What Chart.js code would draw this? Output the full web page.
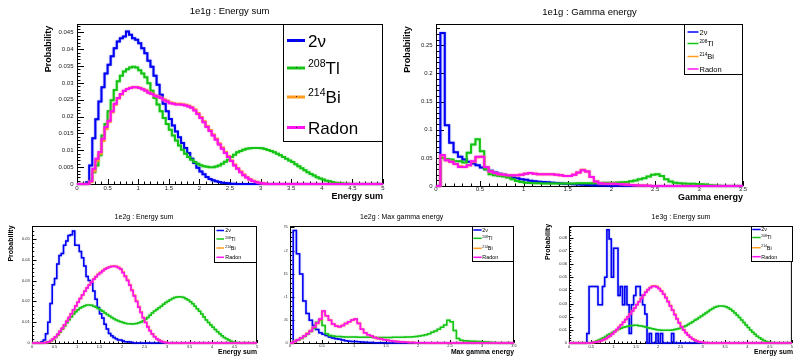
<!DOCTYPE html>
<html>
<head>
<meta charset="utf-8">
<script src="https://cdn.jsdelivr.net/npm/chart.js@4.4.0/dist/chart.umd.min.js"></script>
<style>
  body { margin: 0; background: #fff; width: 794px; height: 356px; overflow: hidden; position: relative; }
  canvas { position: absolute; }
</style>
</head>
<body>
<canvas id="p1" width="397" height="205" style="left:0px;top:0px"></canvas>
<canvas id="p2" width="397" height="205" style="left:397px;top:0px"></canvas>
<canvas id="p3" width="265" height="151" style="left:0px;top:205px"></canvas>
<canvas id="p4" width="246" height="151" style="left:284px;top:205px"></canvas>
<canvas id="p5" width="264" height="151" style="left:530px;top:205px"></canvas>
<script>
// series labels (ROOT latex style)
var labels = ['2\u03bd', '^{208}Tl', '^{214}Bi', 'Radon'];

// tick labels
var xTicks5 = [0, 0.5, 1, 1.5, 2, 2.5, 3, 3.5, 4, 4.5, 5];
var xTicks35 = [0, 0.5, 1, 1.5, 2, 2.5, 3, 3.5];
var yTicks1 = [0, 0.005, 0.01, 0.015, 0.02, 0.025, 0.03, 0.035, 0.04, 0.045];
var yTicks2 = [0, 0.05, 0.1, 0.15, 0.2, 0.25];
var yTicks3 = [0, 0.01, 0.02, 0.03, 0.04, 0.05];
var yTicks4 = [0, 0.05, 0.1, 0.15, 0.2, 0.25];
var yTicks5 = [0, 0.01, 0.02, 0.03, 0.04, 0.05, 0.06, 0.07, 0.08];

// bin width of all histograms
var binWidth = 0.05;

//-- 1e1g : Energy sum (bins of 0.05 from 0 to 5)
var nu1 = [
  0, 0, 0, 0.0005, 0.0055, 0.0136, 0.0192, 0.0245, 0.0287, 0.0328,
  0.0354, 0.0379, 0.0403, 0.0423, 0.0433, 0.0438, 0.0453, 0.0443, 0.0433, 0.0428,
  0.0418, 0.0403, 0.0388, 0.0366, 0.0348, 0.0321, 0.0295, 0.0265, 0.0238, 0.0216,
  0.0193, 0.0174, 0.0156, 0.0139, 0.0122, 0.0107, 0.0092, 0.0075, 0.0062, 0.0048,
  0.0037, 0.0029, 0.0021, 0.0015, 0.0011, 0.0008, 0.0006, 0.0004, 0.0003, 0.0002,
  0.0001, 0.0001, 0, 0, 0, 0, 0, 0, 0, 0,
  0, 0, 0, 0, 0, 0, 0, 0, 0, 0,
  0, 0, 0, 0, 0, 0, 0, 0, 0, 0,
  0, 0, 0, 0, 0, 0, 0, 0, 0, 0,
  0, 0, 0, 0, 0, 0, 0, 0, 0, 0
];
var tl1 = [
  0, 0, 0, 0, 0.0008, 0.0035, 0.0055, 0.0085, 0.0144, 0.0178,
  0.0216, 0.0249, 0.0279, 0.0305, 0.0321, 0.0334, 0.0341, 0.0346, 0.0348, 0.0346,
  0.0338, 0.0328, 0.0317, 0.0299, 0.0277, 0.0255, 0.0236, 0.0216, 0.0196, 0.0178,
  0.0161, 0.0144, 0.0129, 0.0114, 0.0102, 0.0090, 0.0080, 0.0072, 0.0065, 0.0060,
  0.0056, 0.0053, 0.0051, 0.0050, 0.0050, 0.0052, 0.0055, 0.0060, 0.0066, 0.0072,
  0.0080, 0.0087, 0.0094, 0.0098, 0.0102, 0.0105, 0.0106, 0.0107, 0.0107, 0.0107,
  0.0106, 0.0104, 0.0101, 0.0098, 0.0094, 0.0090, 0.0085, 0.0080, 0.0075, 0.0070,
  0.0065, 0.0059, 0.0053, 0.0047, 0.0041, 0.0035, 0.0030, 0.0025, 0.0020, 0.0016,
  0.0013, 0.0010, 0.0008, 0.0006, 0.0004, 0.0003, 0.0002, 0.0001, 0.0001, 0,
  0, 0, 0, 0, 0, 0, 0, 0, 0, 0
];
var bi1 = [
  0, 0, 0, 0, 0.0006, 0.0038, 0.0068, 0.0090, 0.0128, 0.0163,
  0.0185, 0.0213, 0.0236, 0.0254, 0.0266, 0.0276, 0.0282, 0.0286, 0.0288, 0.0287,
  0.0286, 0.0282, 0.0278, 0.0272, 0.0268, 0.0263, 0.0260, 0.0256, 0.0251, 0.0247,
  0.0242, 0.0240, 0.0238, 0.0238, 0.0237, 0.0235, 0.0232, 0.0228, 0.0221, 0.0211,
  0.0199, 0.0186, 0.0172, 0.0160, 0.0147, 0.0134, 0.0120, 0.0108, 0.0095, 0.0083,
  0.0070, 0.0058, 0.0047, 0.0037, 0.0028, 0.0020, 0.0014, 0.0010, 0.0007, 0.0004,
  0.0002, 0.0001, 0, 0, 0, 0, 0, 0, 0, 0,
  0, 0, 0, 0, 0, 0, 0, 0, 0, 0,
  0, 0, 0, 0, 0, 0, 0, 0, 0, 0,
  0, 0, 0, 0, 0, 0, 0, 0, 0, 0
];
var rn1 = [
  0, 0, 0, 0, 0.0008, 0.0045, 0.0075, 0.0095, 0.0134, 0.0169,
  0.0188, 0.0216, 0.0238, 0.0255, 0.0267, 0.0277, 0.0282, 0.0285, 0.0287, 0.0287,
  0.0285, 0.0281, 0.0277, 0.0271, 0.0267, 0.0262, 0.0259, 0.0255, 0.0249, 0.0245,
  0.0240, 0.0238, 0.0236, 0.0236, 0.0235, 0.0233, 0.0230, 0.0226, 0.0218, 0.0208,
  0.0196, 0.0183, 0.0169, 0.0157, 0.0144, 0.0131, 0.0117, 0.0105, 0.0092, 0.0080,
  0.0068, 0.0055, 0.0045, 0.0035, 0.0026, 0.0019, 0.0013, 0.0009, 0.0006, 0.0004,
  0.0002, 0.0001, 0, 0, 0, 0, 0, 0, 0, 0,
  0, 0, 0, 0, 0, 0, 0, 0, 0, 0,
  0, 0, 0, 0, 0, 0, 0, 0, 0, 0,
  0, 0, 0, 0, 0, 0, 0, 0, 0, 0
];

//-- 1e1g : Gamma energy (bins of 0.05 from 0 to 3.5)
var nu2 = [
  0, 0.272, 0.108, 0.077, 0.060, 0.052, 0.047, 0.043, 0.040, 0.037,
  0.033, 0.030, 0.027, 0.024, 0.022, 0.020, 0.017, 0.015, 0.014, 0.012,
  0.011, 0.0095, 0.0083, 0.0077, 0.0071, 0.0065, 0.0058, 0.0052, 0.0046, 0.0040,
  0.0035, 0.0030, 0.0026, 0.0022, 0.0018, 0.0015, 0.0012, 0.0010, 0.0008, 0.0006,
  0.0005, 0.0004, 0.0003, 0.0002, 0.0001, 0, 0, 0, 0, 0,
  0, 0, 0, 0, 0, 0, 0, 0, 0, 0,
  0, 0, 0, 0, 0, 0, 0, 0, 0, 0
];
var tl2 = [
  0, 0.050, 0.048, 0.047, 0.044, 0.044, 0.042, 0.059, 0.074, 0.083,
  0.062, 0.030, 0.021, 0.019, 0.018, 0.017, 0.015, 0.012, 0.009, 0.007,
  0.0060, 0.0055, 0.0050, 0.0048, 0.0046, 0.0045, 0.0045, 0.0044, 0.0044, 0.0045,
  0.0045, 0.0046, 0.0047, 0.0048, 0.0049, 0.0050, 0.0052, 0.0054, 0.0056, 0.0058,
  0.0060, 0.0063, 0.0067, 0.0072, 0.0085, 0.0100, 0.0120, 0.0140, 0.0170, 0.0200,
  0.0210, 0.0180, 0.0120, 0.0080, 0.0060, 0.0050, 0.0045, 0.0042, 0.0040, 0.0037,
  0.0033, 0.0025, 0.0015, 0.0008, 0.0004, 0.0002, 0, 0, 0, 0
];
var bi2 = [
  0, 0.054, 0.046, 0.043, 0.039, 0.035, 0.034, 0.037, 0.043, 0.051,
  0.052, 0.034, 0.026, 0.023, 0.021, 0.020, 0.019, 0.019, 0.019, 0.020,
  0.022, 0.023, 0.022, 0.021, 0.021, 0.021, 0.021, 0.020, 0.019, 0.018,
  0.018, 0.020, 0.024, 0.029, 0.026, 0.016, 0.008, 0.005, 0.004, 0.004,
  0.004, 0.0035, 0.0030, 0.0025, 0.0020, 0.0015, 0.0010, 0.0007, 0.0005, 0,
  0, 0, 0, 0, 0, 0, 0, 0, 0, 0,
  0, 0, 0, 0, 0, 0, 0, 0, 0, 0
];
var rn2 = [
  0, 0.055, 0.046, 0.043, 0.039, 0.034, 0.034, 0.037, 0.044, 0.052,
  0.052, 0.034, 0.026, 0.023, 0.021, 0.020, 0.019, 0.019, 0.019, 0.020,
  0.022, 0.023, 0.022, 0.021, 0.021, 0.021, 0.021, 0.020, 0.019, 0.018,
  0.018, 0.020, 0.024, 0.028, 0.026, 0.016, 0.008, 0.005, 0.004, 0.004,
  0.004, 0.0035, 0.0030, 0.0025, 0.0020, 0.0015, 0.0010, 0.0007, 0.0005, 0,
  0, 0, 0, 0, 0, 0, 0, 0, 0, 0,
  0, 0, 0, 0, 0, 0, 0, 0, 0, 0
];

//-- 1e2g : Energy sum
var nu3 = [
  0, 0, 0, 0, 0.0006, 0.0014, 0.0045, 0.010, 0.019, 0.028,
  0.031, 0.038, 0.042, 0.043, 0.047, 0.049, 0.0516, 0.052, 0.0538, 0.047,
  0.047, 0.044, 0.041, 0.037, 0.032, 0.030, 0.029, 0.025, 0.021, 0.017,
  0.014, 0.012, 0.009, 0.0067, 0.0046, 0.0035, 0.0026, 0.0020, 0.0014, 0.0014,
  0.0010, 0.0006, 0.0006, 0.0005, 0.0002, 0, 0, 0, 0, 0,
  0, 0, 0, 0, 0, 0, 0, 0, 0, 0,
  0, 0, 0, 0, 0, 0, 0, 0, 0, 0,
  0, 0, 0, 0, 0, 0, 0, 0, 0, 0,
  0, 0, 0, 0, 0, 0, 0, 0, 0, 0,
  0, 0, 0, 0, 0, 0, 0, 0, 0, 0
];
var tl3 = [
  0, 0, 0, 0, 0, 0, 0.0002, 0.0005, 0.0010, 0.0017,
  0.0027, 0.0038, 0.0052, 0.0066, 0.0082, 0.0097, 0.0112, 0.0126, 0.0139, 0.0150,
  0.0160, 0.0168, 0.0174, 0.0179, 0.0182, 0.0183, 0.0181, 0.0177, 0.0172, 0.0166,
  0.0159, 0.0152, 0.0144, 0.0137, 0.0130, 0.0123, 0.0117, 0.0111, 0.0106, 0.0102,
  0.0098, 0.0095, 0.0093, 0.0092, 0.0091, 0.0092, 0.0094, 0.0097, 0.0101, 0.0107,
  0.0114, 0.0123, 0.0133, 0.0144, 0.0154, 0.0161, 0.0169, 0.0177, 0.0186, 0.0194,
  0.0201, 0.0208, 0.0214, 0.0218, 0.0221, 0.0222, 0.0221, 0.0218, 0.0213, 0.0206,
  0.0198, 0.0188, 0.0177, 0.0165, 0.0152, 0.0139, 0.0125, 0.0111, 0.0098, 0.0087,
  0.0076, 0.0065, 0.0054, 0.0044, 0.0035, 0.0027, 0.0020, 0.0014, 0.0009, 0.0005,
  0.0003, 0.0001, 0, 0, 0, 0, 0, 0, 0, 0
];
var bi3 = [
  0, 0, 0, 0, 0, 0, 0.0002, 0.0005, 0.0011, 0.0019,
  0.0029, 0.0041, 0.0055, 0.0070, 0.0087, 0.0104, 0.0122, 0.0140, 0.0159, 0.0178,
  0.0196, 0.0214, 0.0232, 0.0249, 0.0265, 0.0280, 0.0294, 0.0307, 0.0319, 0.0330,
  0.0340, 0.0348, 0.0356, 0.0362, 0.0366, 0.0369, 0.0370, 0.0368, 0.0364, 0.0356,
  0.0341, 0.0323, 0.0303, 0.0280, 0.0255, 0.0229, 0.0202, 0.0175, 0.0149, 0.0123,
  0.0100, 0.0079, 0.0060, 0.0044, 0.0031, 0.0021, 0.0014, 0.0008, 0.0004, 0.0002,
  0.0001, 0, 0, 0, 0, 0, 0, 0, 0, 0,
  0, 0, 0, 0, 0, 0, 0, 0, 0, 0,
  0, 0, 0, 0, 0, 0, 0, 0, 0, 0,
  0, 0, 0, 0, 0, 0, 0, 0, 0, 0
];
var rn3 = [
  0, 0, 0, 0, 0, 0, 0.0002, 0.0006, 0.0012, 0.0020,
  0.0030, 0.0042, 0.0056, 0.0071, 0.0088, 0.0105, 0.0123, 0.0141, 0.0160, 0.0178,
  0.0196, 0.0214, 0.0231, 0.0248, 0.0264, 0.0279, 0.0293, 0.0306, 0.0318, 0.0329,
  0.0338, 0.0347, 0.0354, 0.0360, 0.0365, 0.0368, 0.0369, 0.0367, 0.0362, 0.0354,
  0.0338, 0.0320, 0.0300, 0.0277, 0.0252, 0.0226, 0.0199, 0.0172, 0.0146, 0.0121,
  0.0098, 0.0077, 0.0059, 0.0043, 0.0030, 0.0020, 0.0013, 0.0008, 0.0004, 0.0002,
  0.0001, 0, 0, 0, 0, 0, 0, 0, 0, 0,
  0, 0, 0, 0, 0, 0, 0, 0, 0, 0,
  0, 0, 0, 0, 0, 0, 0, 0, 0, 0,
  0, 0, 0, 0, 0, 0, 0, 0, 0, 0
];

//-- 1e2g : Max gamma energy
var nu4 = [
  0, 0.243, 0.193, 0.149, 0.091, 0.064, 0.049, 0.038, 0.029, 0.022,
  0.019, 0.016, 0.013, 0.011, 0.0093, 0.0079, 0.0064, 0.0050, 0.0040, 0.0035,
  0.0030, 0.0025, 0.0020, 0.0015, 0.0012, 0.0010, 0.0008, 0.0006, 0.0005, 0.0003,
  0.0002, 0.0001, 0, 0, 0, 0, 0, 0, 0, 0,
  0, 0, 0, 0, 0, 0, 0, 0, 0, 0,
  0, 0, 0, 0, 0, 0, 0, 0, 0, 0,
  0, 0, 0, 0, 0, 0, 0, 0, 0, 0
];
var tl4 = [
  0, 0.003, 0.006, 0.010, 0.014, 0.019, 0.025, 0.032, 0.045, 0.050,
  0.038, 0.020, 0.016, 0.015, 0.014, 0.014, 0.0135, 0.013, 0.013, 0.0128,
  0.0128, 0.0126, 0.0125, 0.0124, 0.0123, 0.0122, 0.0121, 0.0121, 0.0120, 0.0120,
  0.0120, 0.0121, 0.0122, 0.0123, 0.0125, 0.0127, 0.0130, 0.0132, 0.0135, 0.0140,
  0.0150, 0.0160, 0.0180, 0.0200, 0.0230, 0.0260, 0.0300, 0.0340, 0.0390, 0.0490,
  0.0460, 0.0270, 0.0100, 0.0060, 0.0050, 0.0045, 0.0040, 0.0040, 0.0035, 0.0030,
  0.0025, 0.0020, 0.0015, 0.0010, 0.0007, 0.0004, 0.0002, 0, 0, 0
];
var bi4 = [
  0, 0.003, 0.007, 0.011, 0.015, 0.021, 0.027, 0.034, 0.042, 0.051,
  0.068, 0.059, 0.049, 0.041, 0.037, 0.035, 0.038, 0.042, 0.046, 0.049,
  0.052, 0.043, 0.030, 0.022, 0.018, 0.015, 0.012, 0.010, 0.0085, 0.0072,
  0.0060, 0.0050, 0.0040, 0.0033, 0.0027, 0.0022, 0.0017, 0.0013, 0.0010, 0.0008,
  0.0006, 0.0004, 0.0003, 0.0002, 0, 0, 0, 0, 0, 0,
  0, 0, 0, 0, 0, 0, 0, 0, 0, 0,
  0, 0, 0, 0, 0, 0, 0, 0, 0, 0
];
var rn4 = [
  0, 0.003, 0.007, 0.011, 0.015, 0.020, 0.026, 0.034, 0.043, 0.052,
  0.069, 0.059, 0.049, 0.041, 0.037, 0.035, 0.038, 0.042, 0.046, 0.050,
  0.052, 0.042, 0.030, 0.022, 0.018, 0.015, 0.012, 0.010, 0.0085, 0.0072,
  0.0060, 0.0050, 0.0040, 0.0033, 0.0027, 0.0022, 0.0017, 0.0013, 0.0010, 0.0008,
  0.0006, 0.0004, 0.0003, 0.0002, 0, 0, 0, 0, 0, 0,
  0, 0, 0, 0, 0, 0, 0, 0, 0, 0,
  0, 0, 0, 0, 0, 0, 0, 0, 0, 0
];

//-- 1e3g : Energy sum
var nu5 = [
  0, 0, 0, 0, 0, 0, 0, 0, 0.0072, 0.043,
  0.043, 0.043, 0.043, 0.029, 0.029, 0.043, 0.050, 0.086, 0.079, 0.050,
  0.072, 0.072, 0.036, 0.043, 0.029, 0.043, 0.029, 0.0072, 0.029, 0.036,
  0.043, 0.043, 0.036, 0.029, 0.022, 0, 0.0072, 0, 0, 0.0072,
  0, 0.0072, 0, 0, 0, 0, 0.0072, 0, 0, 0,
  0, 0, 0, 0, 0, 0, 0, 0, 0, 0,
  0, 0, 0, 0, 0, 0, 0, 0, 0, 0,
  0, 0, 0, 0, 0, 0, 0, 0, 0, 0,
  0, 0, 0, 0, 0, 0, 0, 0, 0, 0,
  0, 0, 0, 0, 0, 0, 0, 0, 0, 0
];
var tl5 = [
  0, 0, 0, 0, 0, 0, 0, 0, 0, 0.0002,
  0.0005, 0.0010, 0.0016, 0.0023, 0.0031, 0.0040, 0.0050, 0.0060, 0.0070, 0.0080,
  0.0089, 0.0098, 0.0106, 0.0113, 0.0119, 0.0124, 0.0128, 0.0131, 0.0133, 0.0134,
  0.0134, 0.0132, 0.0130, 0.0126, 0.0121, 0.0116, 0.0112, 0.0108, 0.0104, 0.0101,
  0.0099, 0.0097, 0.0096, 0.0096, 0.0096, 0.0097, 0.0099, 0.0102, 0.0106, 0.0111,
  0.0117, 0.0124, 0.0132, 0.0141, 0.0151, 0.0161, 0.0172, 0.0183, 0.0194, 0.0205,
  0.0216, 0.0228, 0.0240, 0.0252, 0.0263, 0.0271, 0.0277, 0.0281, 0.0282, 0.0280,
  0.0275, 0.0267, 0.0256, 0.0243, 0.0228, 0.0211, 0.0193, 0.0174, 0.0155, 0.0136,
  0.0117, 0.0099, 0.0082, 0.0066, 0.0052, 0.0039, 0.0028, 0.0019, 0.0012, 0.0007,
  0.0003, 0.0001, 0, 0, 0, 0, 0, 0, 0, 0
];
var bi5 = [
  0, 0, 0, 0, 0, 0, 0, 0, 0, 0,
  0.0002, 0.0005, 0.0008, 0.0012, 0.0017, 0.0024, 0.0032, 0.0042, 0.0054, 0.0068,
  0.0084, 0.0101, 0.0119, 0.0138, 0.0158, 0.0179, 0.0200, 0.0222, 0.0245, 0.0268,
  0.0292, 0.0316, 0.0340, 0.0364, 0.0387, 0.0407, 0.0422, 0.0433, 0.0435, 0.0429,
  0.0416, 0.0397, 0.0374, 0.0347, 0.0317, 0.0285, 0.0252, 0.0219, 0.0186, 0.0155,
  0.0126, 0.0101, 0.0079, 0.0060, 0.0044, 0.0032, 0.0022, 0.0015, 0.0009, 0.0005,
  0.0003, 0.0001, 0, 0, 0, 0, 0, 0, 0, 0,
  0, 0, 0, 0, 0, 0, 0, 0, 0, 0,
  0, 0, 0, 0, 0, 0, 0, 0, 0, 0,
  0, 0, 0, 0, 0, 0, 0, 0, 0, 0
];
var rn5 = [
  0, 0, 0, 0, 0, 0, 0, 0, 0, 0,
  0.0003, 0.0005, 0.0008, 0.0012, 0.0017, 0.0024, 0.0033, 0.0043, 0.0055, 0.0069,
  0.0085, 0.0102, 0.0120, 0.0139, 0.0158, 0.0178, 0.0199, 0.0221, 0.0243, 0.0266,
  0.0290, 0.0313, 0.0338, 0.0362, 0.0385, 0.0405, 0.0420, 0.0430, 0.0432, 0.0426,
  0.0412, 0.0393, 0.0370, 0.0343, 0.0313, 0.0281, 0.0248, 0.0215, 0.0183, 0.0152,
  0.0124, 0.0099, 0.0077, 0.0058, 0.0043, 0.0031, 0.0021, 0.0014, 0.0009, 0.0005,
  0.0003, 0.0001, 0, 0, 0, 0, 0, 0, 0, 0,
  0, 0, 0, 0, 0, 0, 0, 0, 0, 0,
  0, 0, 0, 0, 0, 0, 0, 0, 0, 0,
  0, 0, 0, 0, 0, 0, 0, 0, 0, 0
];

var FONT = '"Liberation Sans", Arial, Helvetica, sans-serif';
var colors = ['#0000f2', '#14c414', '#ff9c1e', '#ff12f0'];
Chart.defaults.font.family = FONT;

// histogram outline: one point per bin lower edge, closed at the last edge
function hist(values, w) {
    var pts = [];
    for (var i = 0; i < values.length; i++) {
        pts.push({x: i * w, y: values[i]});
    }
    pts.push({x: values.length * w, y: values[values.length - 1]});
    return pts;
}

function fmt(v) {
    return String(parseFloat(Number(v).toFixed(6)));
}

// draw a string with ^{..} superscripts, vertically centred on y
function drawLatex(ctx, str, x, y, size) {
    var base = y + size * 0.36;
    var re = /\^\{([^}]*)\}/g, last = 0, m;
    ctx.textAlign = 'left';
    ctx.textBaseline = 'alphabetic';
    ctx.fillStyle = '#000';
    function put(t, s, b) {
        ctx.font = s + 'px ' + FONT;
        ctx.fillText(t, x, b);
        x += ctx.measureText(t).width;
    }
    while ((m = re.exec(str))) {
        put(str.slice(last, m.index), size, base);
        put(m[1], size * 0.62, base - size * 0.42);
        last = re.lastIndex;
    }
    put(str.slice(last), size, base);
}

var CFG = {};

var rootPlugin = {
    id: 'rootStyle',
    beforeDatasetsDraw: function(chart) {
        var c = CFG[chart.canvas.id], ctx = chart.ctx, a = chart.chartArea;
        var xs = chart.scales.x, ys = chart.scales.y;
        ctx.save();
        ctx.strokeStyle = '#000';
        ctx.lineWidth = 1;
        ctx.strokeRect(a.left + 0.5, a.top + 0.5, a.right - a.left - 1, a.bottom - a.top);
        ctx.beginPath();
        var n = Math.round(c.xMax / c.xMinor);
        for (var i = 0; i <= n; i++) {
            var v = i * c.xMinor;
            var major = Math.abs(v / c.xMajor - Math.round(v / c.xMajor)) < 1e-6;
            var px = Math.round(xs.getPixelForValue(v)) + 0.5;
            ctx.moveTo(px, a.bottom);
            ctx.lineTo(px, a.bottom - (major ? c.xTick : c.xTick / 2));
        }
        n = Math.floor(c.yMax / c.yMinor + 1e-6);
        for (i = 0; i <= n; i++) {
            v = i * c.yMinor;
            major = Math.abs(v / c.yMajor - Math.round(v / c.yMajor)) < 1e-6;
            var py = Math.round(ys.getPixelForValue(v)) + 0.5;
            ctx.moveTo(a.left, py);
            ctx.lineTo(a.left + (major ? c.yTick : c.yTick / 2), py);
        }
        ctx.stroke();
        ctx.restore();
    },
    beforeDatasetDraw: function(chart, args) {
        var ctx = chart.ctx;
        ctx.save();
        ctx.shadowColor = args.meta.dataset.options.borderColor + '99';
        ctx.shadowBlur = 1.5;
    },
    afterDatasetDraw: function(chart) {
        chart.ctx.restore();
    },
    afterDatasetsDraw: function(chart) {
        var c = CFG[chart.canvas.id], ctx = chart.ctx, L = c.legend;
        ctx.save();
        // legend
        ctx.fillStyle = '#fff';
        ctx.fillRect(L.x, L.y, L.w, L.h);
        ctx.strokeStyle = '#000';
        ctx.lineWidth = 1;
        ctx.strokeRect(L.x + 0.5, L.y + 0.5, L.w - 1, L.h - 1);
        chart.data.datasets.forEach(function(ds, i) {
            var y = L.rows[i];
            ctx.strokeStyle = ds.borderColor;
            ctx.lineWidth = L.lw;
            ctx.beginPath();
            ctx.moveTo(L.x0, y);
            ctx.lineTo(L.x1, y);
            ctx.stroke();
            if (L.dot) {
                ctx.fillStyle = '#333';
                ctx.fillRect(Math.round((L.x0 + L.x1) / 2), Math.round(y) - 1, 1, 1);
            }
            drawLatex(ctx, ds.label, L.tx, y, L.size);
        });
        // titles
        ctx.fillStyle = '#000';
        ctx.textBaseline = 'middle';
        ctx.textAlign = 'center';
        ctx.font = c.title.size + 'px ' + FONT;
        ctx.fillText(c.title.text, c.title.x, c.title.y);
        ctx.textAlign = 'right';
        ctx.font = 'bold ' + c.xTitle.size + 'px ' + FONT;
        ctx.fillText(c.xTitle.text, c.xTitle.x, c.xTitle.y);
        if (c.yTitle) {
            ctx.translate(c.yTitle.x, c.yTitle.y);
            ctx.rotate(-Math.PI / 2);
            ctx.textAlign = 'center';
            ctx.font = 'bold ' + c.yTitle.size + 'px ' + FONT;
            ctx.fillText(c.yTitle.text, 0, 0);
        }
        ctx.restore();
    }
};

function makePanel(id, c, series) {
    CFG[id] = c;
    var cv = document.getElementById(id);
    var W = cv.width, H = cv.height, f = c.frame;
    var sets = series.map(function(vals, i) {
        return {
            label: labels[i],
            data: hist(vals, binWidth),
            borderColor: colors[i],
            borderWidth: c.lw,
            stepped: 'before',  // horizontal first: bin value held from its lower edge
            pointRadius: 0,
            pointHoverRadius: 0,
            fill: false,
            clip: false,
            order: 4 - i
        };
    });
    return new Chart(cv, {
        type: 'line',
        data: {datasets: sets},
        options: {
            responsive: false,
            animation: false,
            events: [],
            layout: {padding: {left: 0, top: f.t, right: W - f.r, bottom: 0}},
            plugins: {legend: {display: false}, tooltip: {enabled: false}, title: {display: false}},
            scales: {
                x: {
                    type: 'linear', min: 0, max: c.xMax,
                    grid: {display: false, drawTicks: false},
                    border: {display: false},
                    afterBuildTicks: function(s) { s.ticks = c.xTicks.map(function(v) { return {value: v}; }); },
                    afterFit: function(s) { s.height = H - f.b; },
                    ticks: {padding: c.xPad, maxRotation: 0, autoSkip: false, color: '#1c1c1c',
                        font: {size: c.tickFont}, callback: fmt}
                },
                y: {
                    type: 'linear', min: 0, max: c.yMax,
                    grid: {display: false, drawTicks: false},
                    border: {display: false},
                    afterBuildTicks: function(s) { s.ticks = c.yTicks.map(function(v) { return {value: v}; }); },
                    afterFit: function(s) { s.width = f.l; },
                    ticks: {padding: c.yPad, autoSkip: false, color: '#1c1c1c',
                        font: {size: c.tickFont}, callback: fmt}
                }
            }
        },
        plugins: [rootPlugin]
    });
}

makePanel('p1', {
    xMax: 5, yMax: 0.0475, xTicks: xTicks5, yTicks: yTicks1,
    xMajor: 0.5, xMinor: 0.1, yMajor: 0.005, yMinor: 0.001, xTick: 5, yTick: 7,
    frame: {l: 77, t: 24, r: 383, b: 184}, tickFont: 6, xPad: 1, yPad: 3.5, lw: 2,
    title: {text: '1e1g : Energy sum', x: 229.5, y: 11, size: 9.5},
    xTitle: {text: 'Energy sum', x: 383, y: 197, size: 9},
    yTitle: {text: 'Probability', x: 49, y: 49, size: 9},
    legend: {x: 283, y: 24, w: 100, h: 118, rows: [40.5, 68, 97, 127.5], x0: 287, x1: 305, tx: 308, size: 17, lw: 3, dot: true}
}, [nu1, tl1, bi1, rn1]);

makePanel('p2', {
    xMax: 3.5, yMax: 0.288, xTicks: xTicks35, yTicks: yTicks2,
    xMajor: 0.5, xMinor: 0.1, yMajor: 0.05, yMinor: 0.01, xTick: 5, yTick: 8,
    frame: {l: 39, t: 24, r: 346, b: 186}, tickFont: 6, xPad: 0, yPad: 3.3, lw: 2,
    title: {text: '1e1g : Gamma energy', x: 192.5, y: 12, size: 9.5},
    xTitle: {text: 'Gamma energy', x: 346, y: 198, size: 9},
    yTitle: {text: 'Probability', x: 10.5, y: 49.5, size: 9},
    legend: {x: 287, y: 24, w: 59, h: 51, rows: [32, 43.5, 56.5, 69], x0: 290.5, x1: 301.5, tx: 302.5, size: 7.5, lw: 1.5}
}, [nu2, tl2, bi2, rn2]);

makePanel('p3', {
    xMax: 5, yMax: 0.0562, xTicks: xTicks5, yTicks: yTicks3,
    xMajor: 0.5, xMinor: 0.1, yMajor: 0.01, yMinor: 0.002, xTick: 3, yTick: 4.5,
    frame: {l: 32, t: 21, r: 257, b: 138}, tickFont: 4, xPad: 1, yPad: 2.3, lw: 1.5,
    title: {text: '1e2g : Energy sum', x: 144, y: 11.7, size: 7},
    xTitle: {text: 'Energy sum', x: 257, y: 147.5, size: 6.8},
    yTitle: {text: 'Probability', x: 11, y: 38.5, size: 7},
    legend: {x: 214, y: 21, w: 43, h: 37, rows: [25.5, 34, 43, 52.3], x0: 216.5, x1: 224, tx: 225.3, size: 5.4, lw: 1.5}
}, [nu3, tl3, bi3, rn3]);

makePanel('p4', {
    xMax: 3.5, yMax: 0.253, xTicks: xTicks35, yTicks: yTicks4,
    xMajor: 0.5, xMinor: 0.1, yMajor: 0.05, yMinor: 0.01, xTick: 3, yTick: 4.5,
    frame: {l: 6, t: 21, r: 230, b: 138}, tickFont: 4, xPad: 0.5, yPad: 2.3, lw: 1.5,
    title: {text: '1e2g : Max gamma energy', x: 117.7, y: 11.7, size: 7},
    xTitle: {text: 'Max gamma energy', x: 230, y: 147.5, size: 6.8},
    yTitle: null,
    legend: {x: 188, y: 21, w: 42, h: 36, rows: [25, 33.3, 43.3, 52.3], x0: 189.3, x1: 197.7, tx: 198.3, size: 5.4, lw: 1.5}
}, [nu4, tl4, bi4, rn4]);

makePanel('p5', {
    xMax: 5, yMax: 0.0889, xTicks: xTicks5, yTicks: yTicks5,
    xMajor: 0.5, xMinor: 0.1, yMajor: 0.01, yMinor: 0.002, xTick: 3, yTick: 4.5,
    frame: {l: 39, t: 21, r: 263, b: 138}, tickFont: 4, xPad: 1, yPad: 2, lw: 1.5,
    title: {text: '1e3g : Energy sum', x: 151, y: 11.7, size: 7},
    xTitle: {text: 'Energy sum', x: 263, y: 147.5, size: 6.8},
    yTitle: {text: 'Probability', x: 18.3, y: 37, size: 7},
    legend: {x: 221, y: 21, w: 42, h: 36, rows: [24.5, 32.5, 42.7, 51.7], x0: 222.3, x1: 230.7, tx: 231.3, size: 5.4, lw: 1.5}
}, [nu5, tl5, bi5, rn5]);
</script>
</body>
</html>
